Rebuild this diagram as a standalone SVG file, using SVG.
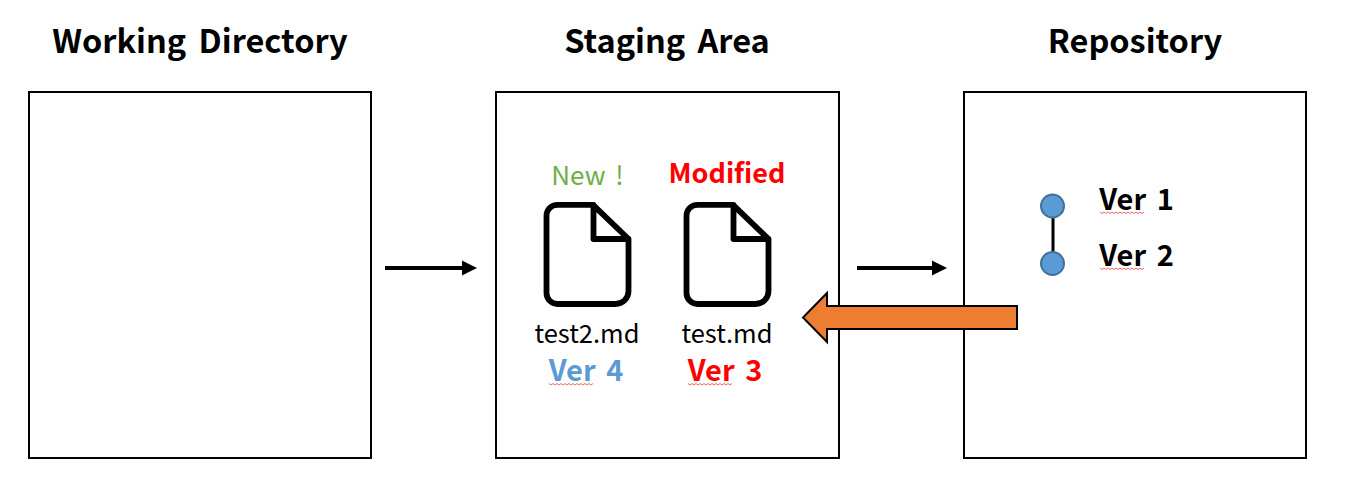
<svg xmlns="http://www.w3.org/2000/svg" width="1370" height="498" viewBox="0 0 1370 498">
<defs>
<path id="doc" d="M14 2.800H49.500L85 37V89A13 13 0 0 1 72 102H14A11 11 0 0 1 3 91V14A11 11 0 0 1 14 2.800ZM50 3V37H85" fill="none" stroke="#000" stroke-width="5.800" stroke-linejoin="round" stroke-linecap="round"/>
<path id="sq" d="M0 0l2 1.500 2-1.500 2 1.500 2-1.500 2 1.500 2-1.500 2 1.500 2-1.500 2 1.500 2-1.500 2 1.500 2-1.500 2 1.500 2-1.500 2 1.500 2-1.500 2 1.500 2-1.500 2 1.500 2-1.500 2 1.500 2-1.500" fill="none" stroke="#f04040" stroke-width="0.800"/>
<marker id="ah" markerUnits="userSpaceOnUse" markerWidth="16" markerHeight="16" refX="0" refY="8" orient="auto"><path d="M0 0.500L15 8L0 15.500Z" fill="#000"/></marker>
</defs>
<style>
text{font-family:"Noto Sans CJK KR","Noto Sans",sans-serif;text-anchor:middle}
.t{font-size:32.500px;font-weight:700;word-spacing:5px}
.b{fill:#fff;stroke:#000;stroke-width:2}
.v{font-size:29px;font-weight:700;word-spacing:4px}
.dot{fill:#5b9bd5;stroke:#41719c;stroke-width:2}
</style>
<rect width="1370" height="498" fill="#fff"/>
<g id="working-directory"><rect class="b" x="29" y="92" width="342" height="366"/><text class="t" x="200" y="53">Working Directory</text></g>
<g id="staging-area"><rect class="b" x="496" y="92" width="343" height="366"/><text class="t" x="667" y="53">Staging Area</text></g>
<g id="repository"><rect class="b" x="964" y="92" width="342" height="366"/><text class="t" x="1135" y="53">Repository</text></g>
<g id="file-test2"><text x="587.500" y="185" font-size="26" fill="#70ad47" word-spacing="4">New !</text><use href="#doc" x="543.500" y="202"/><text x="587" y="343" font-size="25.500">test2.md</text><text class="v" x="586" y="381" fill="#5b9bd5">Ver 4</text><use href="#sq" x="549" y="383.500"/></g>
<g id="file-test"><text x="727" y="182.500" font-size="27" font-weight="700" fill="#f00">Modified</text><use href="#doc" x="683.500" y="202"/><text x="727" y="343" font-size="25.500">test.md</text><text class="v" x="725" y="381" fill="#f00">Ver 3</text><use href="#sq" x="688" y="383.500"/></g>
<g id="connectors">
<line x1="385" y1="268" x2="462" y2="268" stroke="#000" stroke-width="4" marker-end="url(#ah)"/>
<line x1="857" y1="268" x2="932" y2="268" stroke="#000" stroke-width="4" marker-end="url(#ah)"/>
<line x1="1053" y1="215" x2="1053" y2="254" stroke="#000" stroke-width="3"/>
<path d="M1017 306V329H827V342L803 317.500L827 293V306Z" fill="#ed7d31" stroke="#000" stroke-width="2"/>
</g>
<g id="ver-1"><circle class="dot" cx="1052.500" cy="206" r="11.500"/><text class="v" x="1136.500" y="210" fill="#000">Ver 1</text><use href="#sq" x="1100" y="212"/></g>
<g id="ver-2"><circle class="dot" cx="1052.500" cy="263.500" r="11.500"/><text class="v" x="1136.500" y="266" fill="#000">Ver 2</text><use href="#sq" x="1100" y="268"/></g>
</svg>
